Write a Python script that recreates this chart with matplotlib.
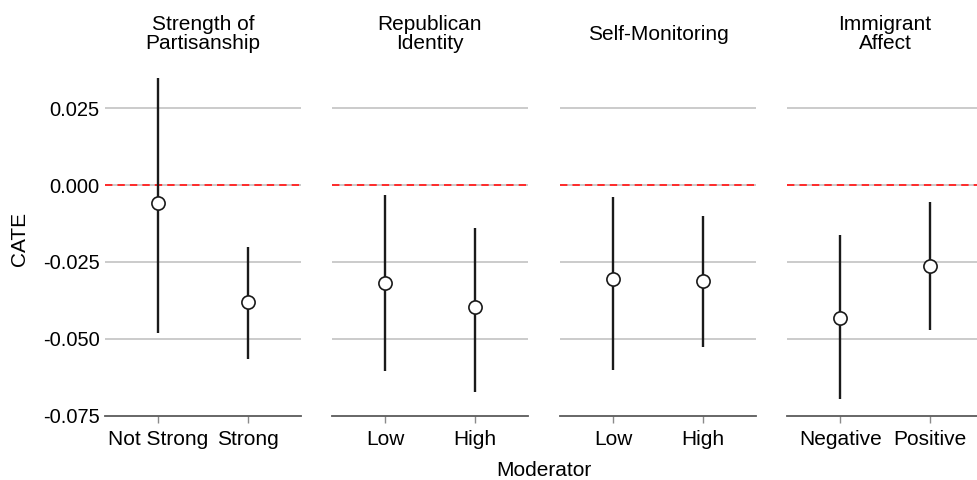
import matplotlib
matplotlib.use("Agg")
import matplotlib.pyplot as plt

plt.rcParams["font.family"] = ["Liberation Sans", "DejaVu Sans"]

# -----------------------------
# Data: conditional average treatment effects by moderator
# -----------------------------
panel_titles = [
    "Strength of\nPartisanship",
    "Republican\nIdentity",
    "Self-Monitoring",
    "Immigrant\nAffect",
]
panel_levels = [
    ["Not Strong", "Strong"],
    ["Low", "High"],
    ["Low", "High"],
    ["Negative", "Positive"],
]
cate = [
    [-0.0058, -0.0381],
    [-0.0318, -0.0398],
    [-0.0307, -0.0311],
    [-0.0432, -0.0263],
]
ci_low = [
    [-0.0480, -0.0567],
    [-0.0605, -0.0673],
    [-0.0602, -0.0526],
    [-0.0697, -0.0470],
]
ci_high = [
    [0.0349, -0.0201],
    [-0.0033, -0.0141],
    [-0.0038, -0.0101],
    [-0.0161, -0.0056],
]
y_breaks = [0.025, 0.0, -0.025, -0.05, -0.075]
y_labels = ["0.025", "0.000", "-0.025", "-0.050", "-0.075"]

# -----------------------------
# Layout
# -----------------------------
W, H = 978, 480
fig = plt.figure(figsize=(W / 100, H / 100), dpi=100)

panel_left = [105, 332, 560, 787]
panel_w = 196
panel_top, panel_bottom = 61.8, 415.7

for i in range(4):
    ax = fig.add_axes([panel_left[i] / W, 1 - panel_bottom / H,
                       panel_w / W, (panel_bottom - panel_top) / H])
    xs = [1, 2]

    for yb in y_breaks[:-1]:
        ax.axhline(yb, color="#bdbdbd", lw=1.1, zorder=0)
    ax.axhline(0, color="#ff2a2a", lw=1.4, ls=(0, (3.8, 2.6)), zorder=1)

    ax.vlines(xs, ci_low[i], ci_high[i], color="#1a1a1a", lw=1.7, zorder=2)
    ax.plot(xs, cate[i], "o", ms=9.5, mfc="white", mec="#1a1a1a",
            mew=1.2, zorder=3)

    ax.set_xlim(0.4, 2.6)
    ax.set_ylim(-0.0749, 0.0401)

    for side in ["top", "right", "left"]:
        ax.spines[side].set_visible(False)
    ax.spines["bottom"].set_color("#5a5a5a")
    ax.spines["bottom"].set_linewidth(1.3)

    ax.set_xticks(xs)
    ax.set_xticklabels(panel_levels[i], fontsize=15)
    ax.tick_params(axis="x", length=5, color="#8a8a8a", width=1, pad=5)

    ax.set_yticks(y_breaks)
    if i == 0:
        ax.set_yticklabels(y_labels, fontsize=14.5)
        ax.tick_params(axis="y", length=0, pad=4)
    else:
        ax.set_yticklabels([])
        ax.tick_params(axis="y", length=0)

    # facet strip label, centred above the panel
    fig.text((panel_left[i] + panel_w / 2) / W, 1 - 34 / H, panel_titles[i],
             fontsize=15, ha="center", va="center", linespacing=1.05)

fig.text(544 / W, 1 - 470 / H, "Moderator", fontsize=15,
         ha="center", va="center")
fig.text(19 / W, 1 - 239 / H, "CATE", fontsize=15, rotation=90,
         ha="center", va="center")

fig.savefig("out.png", dpi=100)
